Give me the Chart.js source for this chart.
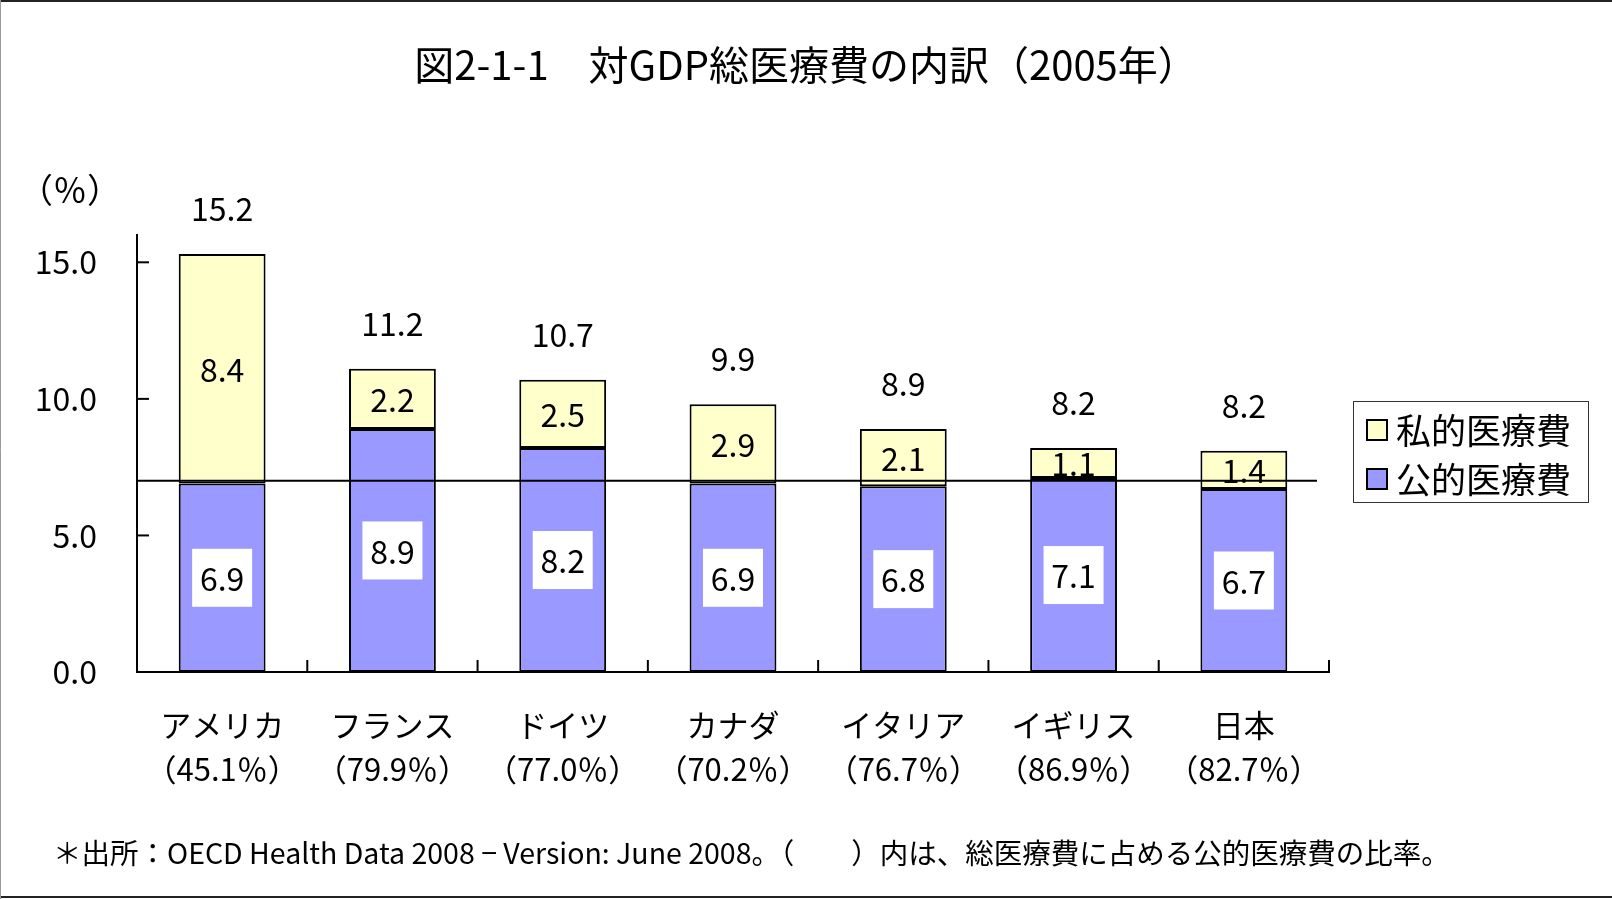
<!DOCTYPE html>
<html>
<head>
<meta charset="utf-8">
<script src="https://cdn.jsdelivr.net/npm/chart.js@4.4.1/dist/chart.umd.min.js"></script>
<style>
html, body { margin: 0; padding: 0; background: #fff; }
#wrap { width: 1612px; height: 899px; }
</style>
</head>
<body>
<div id="wrap"><canvas id="myChart" width="1612" height="899"></canvas></div>
<script>
// data
var countries = ['アメリカ', 'フランス', 'ドイツ', 'カナダ', 'イタリア', 'イギリス', '日本'];
var publicRatio = [45.1, 79.9, 77.0, 70.2, 76.7, 86.9, 82.7];
var publicCost = [6.9, 8.9, 8.2, 6.9, 6.8, 7.1, 6.7];
var privateCost = [8.4, 2.2, 2.5, 2.9, 2.1, 1.1, 1.4];
var totalCost = [15.2, 11.2, 10.7, 9.9, 8.9, 8.2, 8.2];
var yTicks = [0, 5, 10, 15];
var refLine = 7.0;

var FONT = "'Noto Sans CJK JP', 'Noto Sans', sans-serif";
Chart.defaults.font.family = FONT;
Chart.defaults.color = '#000';

var catLabels = countries.map(function (c, i) {
    return [c, '（' + publicRatio[i].toFixed(1) + '％）'];
});

// title, frame, inner ticks, reference line, value labels, legend, notes
var decor = {
    id: 'decor',
    beforeDraw: function (chart) {
        var c = chart.ctx;
        c.save();
        c.fillStyle = '#fff';
        c.fillRect(0, 0, chart.width, chart.height);
        c.restore();
    },
    afterDatasetsDraw: function (chart) {
        var c = chart.ctx, area = chart.chartArea;
        var x = chart.scales.x, y = chart.scales.y;
        c.save();

        // reference line
        var ry = y.getPixelForValue(refLine);
        c.strokeStyle = '#000';
        c.lineWidth = 2;
        c.beginPath();
        c.moveTo(area.left, ry);
        c.lineTo(area.right - 12, ry);
        c.stroke();

        // inner tick marks
        yTicks.forEach(function (v) {
            var py = y.getPixelForValue(v);
            c.beginPath();
            c.moveTo(area.left, py);
            c.lineTo(area.left + 12, py);
            c.stroke();
        });
        for (var i = 0; i < countries.length; i++) {
            var px = i < countries.length - 1
                ? (x.getPixelForTick(i) + x.getPixelForTick(i + 1)) / 2
                : area.right;
            c.beginPath();
            c.moveTo(px, area.bottom);
            c.lineTo(px, area.bottom - 12);
            c.stroke();
        }

        // value labels
        c.font = '32px ' + FONT;
        c.textAlign = 'center';
        c.textBaseline = 'middle';
        c.fillStyle = '#000';
        var pub = chart.getDatasetMeta(0).data;
        var pri = chart.getDatasetMeta(1).data;
        pub.forEach(function (el, i) {
            var cy = (el.y + el.base) / 2;
            c.fillStyle = '#fff';
            c.fillRect(el.x - 30, cy - 29, 60, 58);
            c.fillStyle = '#000';
            c.fillText(publicCost[i].toFixed(1), el.x, cy + 1);
        });
        pri.forEach(function (el, i) {
            var cy = (el.y + el.base) / 2;
            c.fillText(privateCost[i].toFixed(1), el.x, cy + 1);
            c.fillText(totalCost[i].toFixed(1), el.x, el.y - 45);
        });
        c.restore();
    },
    afterDraw: function (chart) {
        var c = chart.ctx;
        c.save();
        c.fillStyle = '#000';
        c.textBaseline = 'middle';

        // title
        c.font = '40px ' + FONT;
        c.textAlign = 'center';
        c.fillText('図2-1-1　対GDP総医療費の内訳（2005年）', chart.width / 2, 65);

        // unit label
        c.font = '34px ' + FONT;
        c.fillText('（％）', 70, 190);

        // legend box
        c.strokeStyle = '#333';
        c.lineWidth = 1;
        c.strokeRect(1353.5, 401.5, 235, 101);
        var items = chart.data.datasets.slice().reverse();
        c.font = '35px ' + FONT;
        c.textAlign = 'left';
        items.forEach(function (ds, i) {
            var cy = 430 + i * 49;
            c.fillStyle = ds.backgroundColor;
            c.fillRect(1367, cy - 10, 20, 20);
            c.strokeStyle = '#000';
            c.lineWidth = 2;
            c.strokeRect(1367, cy - 10, 20, 20);
            c.fillStyle = '#000';
            c.fillText(ds.label, 1396, cy + 1);
        });

        // source note
        c.font = '28.5px ' + FONT;
        c.fillText('＊出所：OECD Health Data 2008 − Version: June 2008。（　　）内は、総医療費に占める公的医療費の比率。', 53, 853);

        // outer frame
        c.strokeStyle = '#222';
        c.lineWidth = 2;
        c.beginPath();
        c.moveTo(0, 1); c.lineTo(chart.width, 1);
        c.moveTo(0, chart.height - 2); c.lineTo(chart.width, chart.height - 2);
        c.stroke();
        c.strokeStyle = '#999';
        c.lineWidth = 1;
        c.beginPath();
        c.moveTo(0.5, 0); c.lineTo(0.5, chart.height);
        c.stroke();
        c.restore();
    }
};

var ctx = document.getElementById('myChart').getContext('2d');
var myChart = new Chart(ctx, {
    type: 'bar',
    data: {
        labels: catLabels,
        datasets: [{
            label: '公的医療費',
            data: publicCost,
            backgroundColor: '#9999FF',
            borderColor: '#000',
            borderWidth: 2,
            borderSkipped: false,
            categoryPercentage: 1,
            barPercentage: 0.51
        }, {
            label: '私的医療費',
            data: privateCost,
            backgroundColor: '#FFFFCC',
            borderColor: '#000',
            borderWidth: 2,
            borderSkipped: false,
            categoryPercentage: 1,
            barPercentage: 0.51
        }]
    },
    options: {
        responsive: false,
        animation: false,
        layout: {
            padding: { left: 0, right: 283, top: 235, bottom: 97 }
        },
        plugins: {
            legend: { display: false },
            tooltip: { enabled: false },
            title: { display: false }
        },
        scales: {
            x: {
                stacked: true,
                grid: { display: false, drawTicks: false },
                border: { color: '#000', width: 2 },
                ticks: { font: { size: 31, lineHeight: 1.42 }, padding: 31, maxRotation: 0, autoSkip: false },
                afterFit: function (s) { s.height = 130; }
            },
            y: {
                stacked: true,
                min: 0,
                max: 16,
                grid: { display: false, drawTicks: false },
                border: { color: '#000', width: 2 },
                ticks: {
                    font: { size: 32 },
                    padding: 40,
                    callback: function (v) { return v.toFixed(1); }
                },
                afterBuildTicks: function (s) {
                    s.ticks = yTicks.map(function (v) { return { value: v }; });
                },
                afterFit: function (s) { s.width = 137; }
            }
        }
    },
    plugins: [decor]
});
</script>
</body>
</html>
